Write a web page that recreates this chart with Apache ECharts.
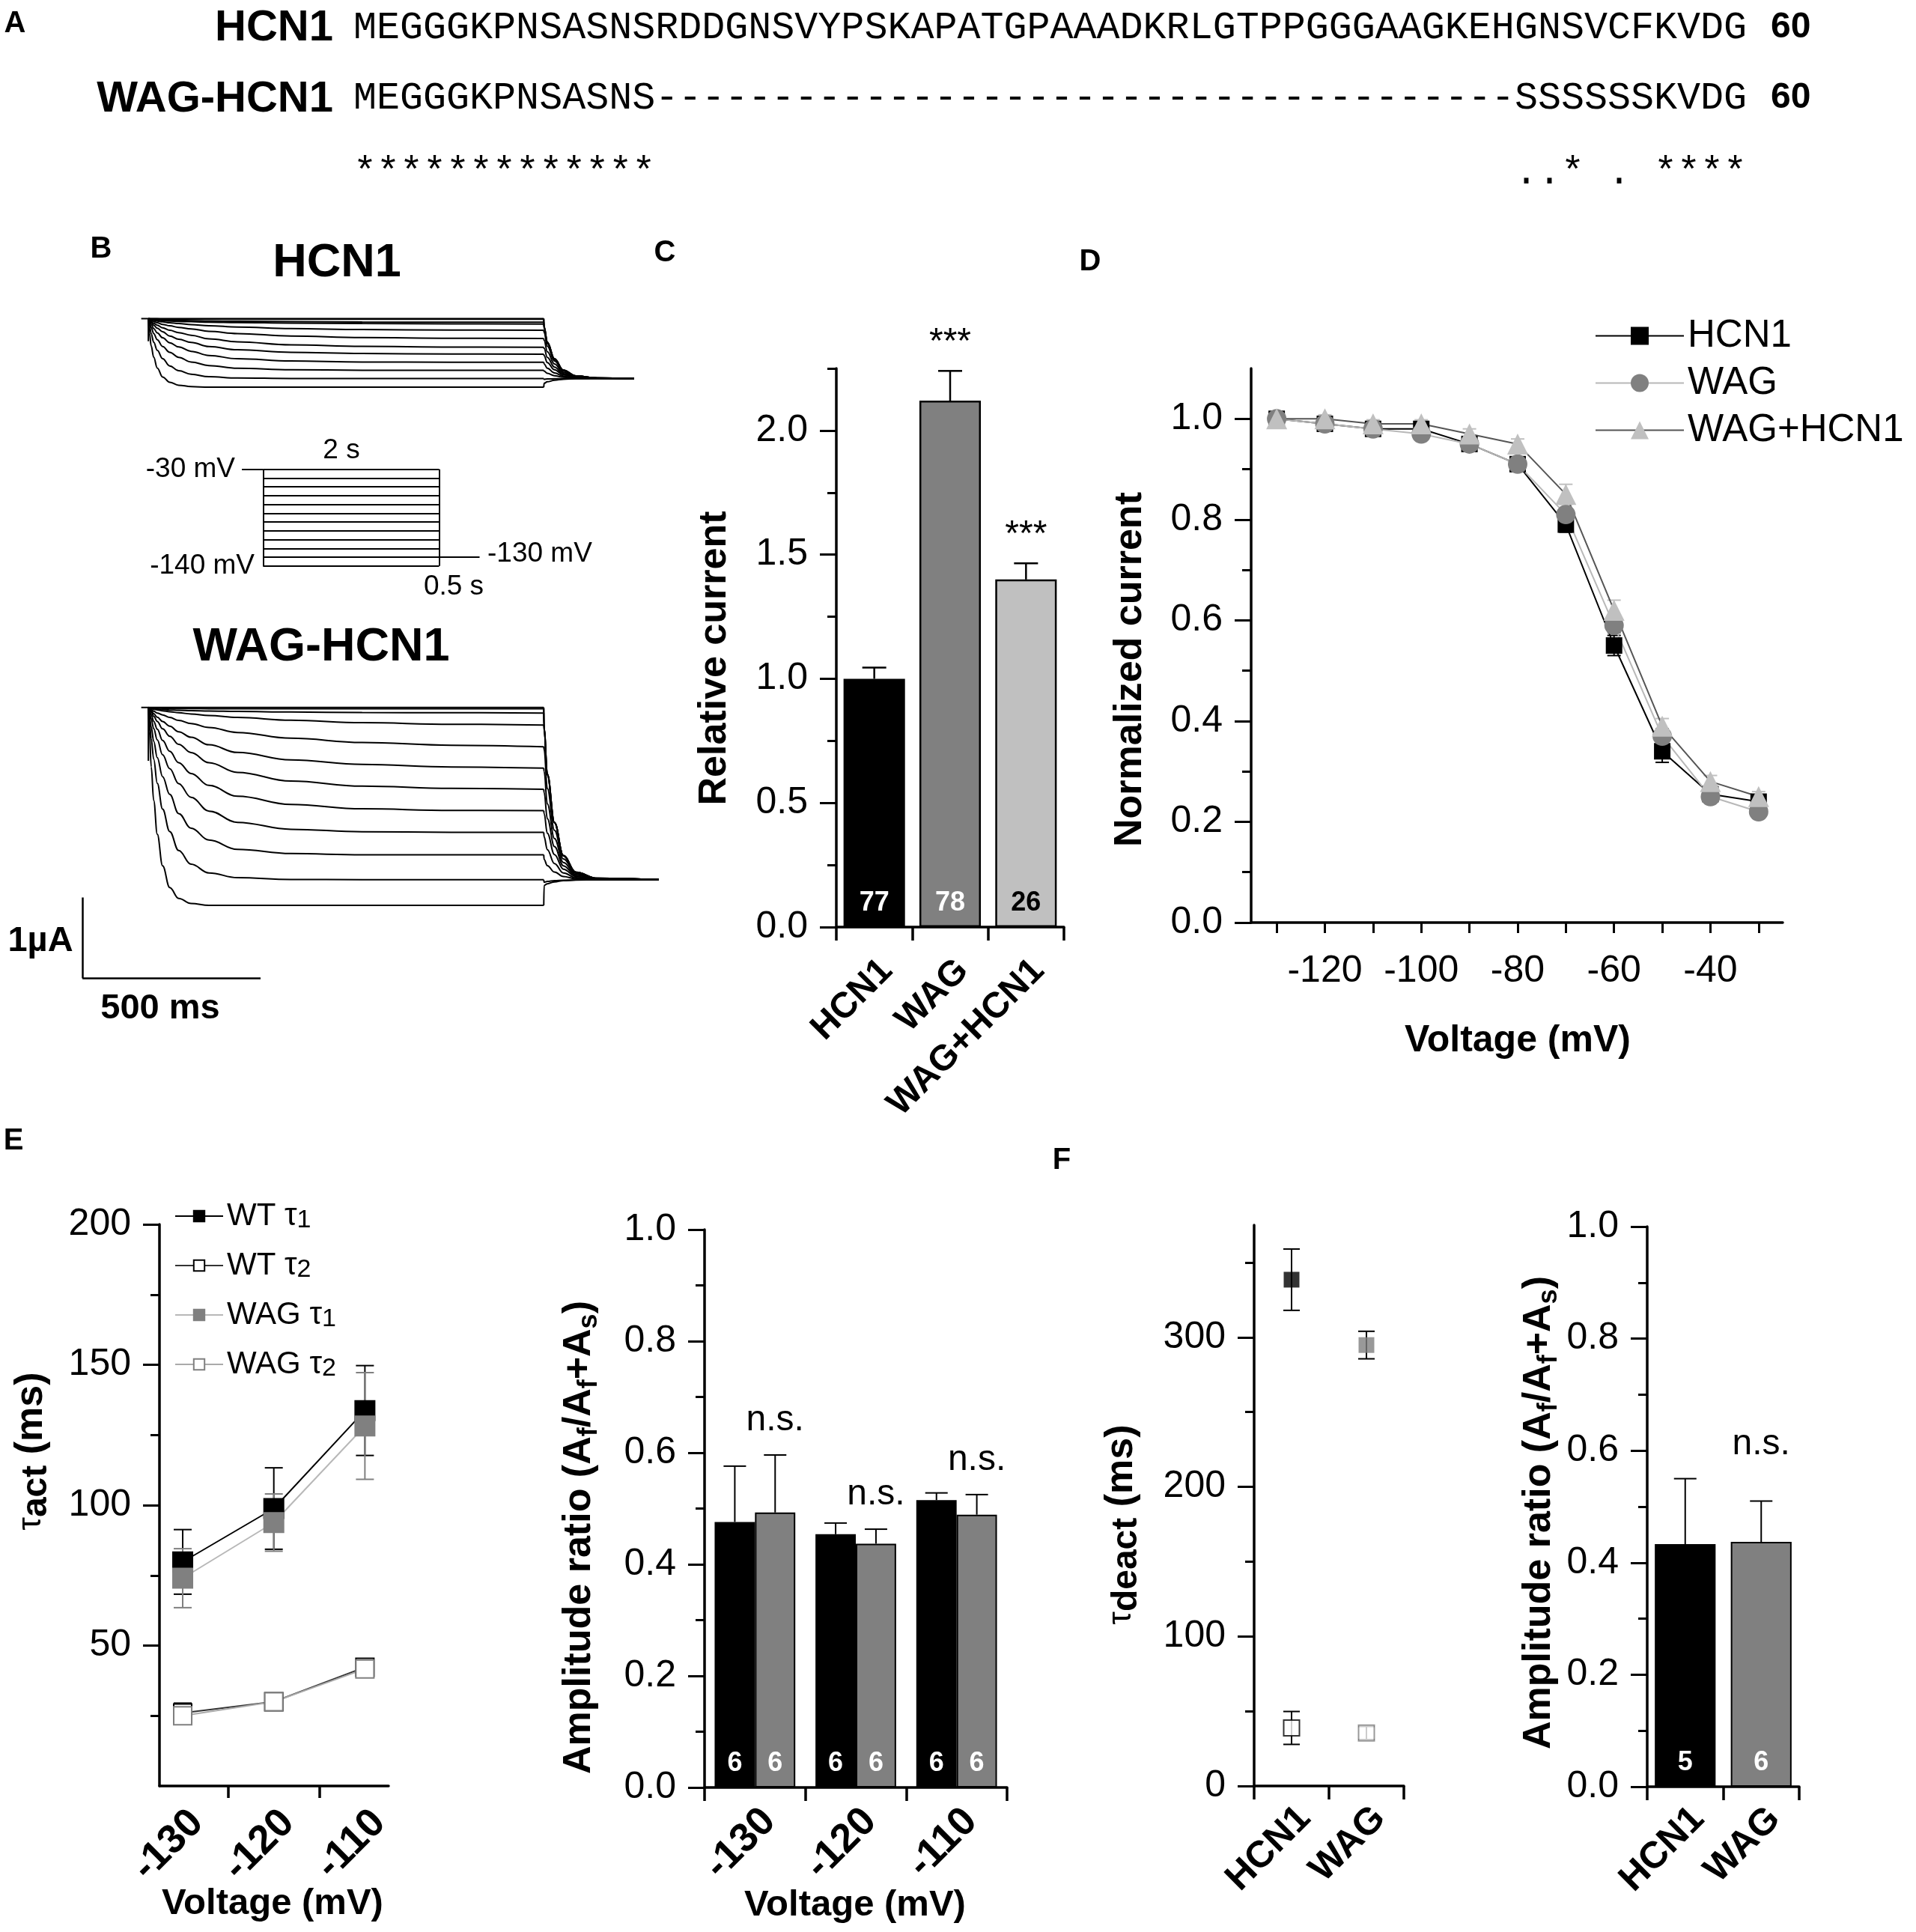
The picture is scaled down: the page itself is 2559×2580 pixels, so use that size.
<!DOCTYPE html>
<html>
<head>
<meta charset="utf-8">
<title>HCN1 / WAG-HCN1</title>
<script src="https://cdn.jsdelivr.net/npm/echarts@6.0.0/dist/echarts.min.js"></script>
<style>
html, body { margin: 0; padding: 0; background: #fff; }
#fig { width: 2559px; height: 2580px; }
</style>
</head>
<body>
<div id="fig"></div>
<script>
var SANS = '"Liberation Sans", Arial, Helvetica, sans-serif';
var MONO = '"Liberation Mono", "DejaVu Sans Mono", monospace';

// ---------- A: alignment ----------
var seqHCN1 = 'MEGGGKPNSASNSRDDGNSVYPSKAPATGPAAADKRLGTPPGGGAAGKEHGNSVCFKVDG';
var seqWAG = 'MEGGGKPNSASNS' + new Array(38).join('-') + 'SSSSSSKVDG';
var seqCons = '*************' + new Array(38).join(' ') + '..* . ****';

// ---------- B: protocol and current traces ----------
var stepVoltages = [-30, -40, -50, -60, -70, -80, -90, -100, -110, -120, -130, -140];
var holdV = -30, tailV = -130, stepMs = 2000, tailMs = 460, leadMs = 240;
var holdStart = -20;
var spikeHCN1 = -0.28, spikeWAG = -0.66;
var pulseT = [0, 3, 8, 15, 25, 40, 60, 85, 120, 170, 250, 400, 600, 850, 1110];
var hcn1TailT = [1110, 1111, 1120, 1140, 1165, 1200, 1260, 1363];
var wagTailT = [1110, 1111, 1120, 1140, 1165, 1200, 1260, 1433];

// current in uA, one row per step voltage (-30 ... -140)
var hcn1Pulse = [
	[0, 0, 0, 0, 0, 0, 0, 0, 0, 0, 0, 0, 0, 0, 0],
	[0, -0.002, -0.003, -0.003, -0.004, -0.005, -0.006, -0.006, -0.007, -0.009, -0.009, -0.009, -0.009, -0.009, -0.009],
	[0, -0.004, -0.007, -0.009, -0.012, -0.015, -0.022, -0.024, -0.026, -0.031, -0.034, -0.037, -0.043, -0.046, -0.046],
	[0, -0.005, -0.010, -0.015, -0.020, -0.025, -0.031, -0.035, -0.039, -0.044, -0.049, -0.056, -0.062, -0.065, -0.068],
	[0, -0.007, -0.013, -0.022, -0.030, -0.041, -0.052, -0.062, -0.074, -0.088, -0.105, -0.123, -0.136, -0.142, -0.145],
	[0, -0.011, -0.022, -0.037, -0.052, -0.072, -0.090, -0.109, -0.128, -0.158, -0.185, -0.216, -0.235, -0.244, -0.247],
	[0, -0.017, -0.036, -0.059, -0.082, -0.114, -0.145, -0.174, -0.206, -0.252, -0.287, -0.324, -0.343, -0.352, -0.355],
	[0, -0.022, -0.049, -0.083, -0.119, -0.163, -0.216, -0.256, -0.295, -0.346, -0.386, -0.417, -0.432, -0.438, -0.441],
	[0, -0.030, -0.070, -0.123, -0.178, -0.238, -0.299, -0.351, -0.405, -0.456, -0.497, -0.525, -0.537, -0.540, -0.540],
	[0, -0.048, -0.109, -0.185, -0.262, -0.345, -0.417, -0.479, -0.537, -0.581, -0.614, -0.633, -0.639, -0.639, -0.639],
	[0, -0.082, -0.185, -0.293, -0.393, -0.496, -0.586, -0.645, -0.689, -0.719, -0.735, -0.741, -0.741, -0.741, -0.741],
	[0, -0.178, -0.340, -0.478, -0.611, -0.722, -0.787, -0.824, -0.841, -0.849, -0.849, -0.849, -0.849, -0.849, -0.849]
];
var hcn1Tail = [
	[0, -0.10, -0.292, -0.497, -0.638, -0.709, -0.735, -0.741],
	[-0.009, -0.10, -0.292, -0.497, -0.638, -0.709, -0.735, -0.741],
	[-0.046, -0.11, -0.299, -0.501, -0.640, -0.709, -0.735, -0.741],
	[-0.068, -0.12, -0.306, -0.505, -0.642, -0.710, -0.735, -0.741],
	[-0.145, -0.17, -0.341, -0.524, -0.650, -0.712, -0.735, -0.741],
	[-0.247, -0.27, -0.411, -0.562, -0.666, -0.717, -0.736, -0.741],
	[-0.355, -0.37, -0.481, -0.600, -0.682, -0.722, -0.737, -0.741],
	[-0.441, -0.46, -0.544, -0.634, -0.696, -0.727, -0.738, -0.741],
	[-0.540, -0.56, -0.614, -0.672, -0.712, -0.732, -0.739, -0.741],
	[-0.639, -0.65, -0.677, -0.706, -0.726, -0.736, -0.740, -0.741],
	[-0.741, -0.75, -0.747, -0.744, -0.742, -0.741, -0.741, -0.741],
	[-0.849, -0.80, -0.782, -0.763, -0.750, -0.744, -0.742, -0.741]
];
var wagPulse = [
	[0, 0, 0, 0, 0, 0, 0, 0, 0, 0, 0, 0, 0, 0, 0],
	[0, -0.002, -0.004, -0.006, -0.008, -0.010, -0.012, -0.013, -0.014, -0.015, -0.015, -0.015, -0.015, -0.015, -0.015],
	[0, -0.005, -0.010, -0.015, -0.020, -0.025, -0.031, -0.035, -0.039, -0.044, -0.049, -0.056, -0.062, -0.065, -0.068],
	[0, -0.006, -0.013, -0.022, -0.030, -0.041, -0.052, -0.065, -0.080, -0.099, -0.123, -0.157, -0.188, -0.207, -0.216],
	[0, -0.012, -0.024, -0.046, -0.068, -0.092, -0.123, -0.160, -0.199, -0.247, -0.309, -0.380, -0.432, -0.466, -0.485],
	[0, -0.017, -0.038, -0.077, -0.120, -0.173, -0.231, -0.300, -0.368, -0.461, -0.556, -0.648, -0.704, -0.735, -0.750],
	[0, -0.025, -0.056, -0.108, -0.172, -0.263, -0.355, -0.455, -0.557, -0.683, -0.802, -0.910, -0.972, -1.000, -1.012],
	[0, -0.038, -0.089, -0.170, -0.268, -0.408, -0.541, -0.682, -0.816, -0.963, -1.097, -1.199, -1.253, -1.272, -1.275],
	[0, -0.062, -0.139, -0.262, -0.401, -0.586, -0.756, -0.941, -1.111, -1.281, -1.420, -1.506, -1.537, -1.543, -1.543],
	[0, -0.109, -0.237, -0.419, -0.619, -0.856, -1.074, -1.311, -1.493, -1.639, -1.754, -1.806, -1.821, -1.821, -1.821],
	[0, -0.170, -0.383, -0.639, -0.937, -1.257, -1.534, -1.768, -1.938, -2.045, -2.104, -2.126, -2.130, -2.130, -2.130],
	[0, -0.294, -0.734, -1.150, -1.566, -1.958, -2.227, -2.361, -2.423, -2.447, -2.447, -2.447, -2.447, -2.447, -2.447]
];
var wagTail = [
	[0, -0.262, -0.822, -1.420, -1.831, -2.037, -2.111, -2.130],
	[-0.015, -0.262, -0.822, -1.420, -1.831, -2.037, -2.111, -2.130],
	[-0.068, -0.270, -0.828, -1.423, -1.832, -2.037, -2.111, -2.130],
	[-0.216, -0.280, -0.835, -1.427, -1.834, -2.038, -2.112, -2.130],
	[-0.485, -0.520, -1.003, -1.518, -1.872, -2.050, -2.114, -2.130],
	[-0.750, -0.790, -1.192, -1.621, -1.916, -2.063, -2.117, -2.130],
	[-1.012, -1.050, -1.374, -1.720, -1.957, -2.076, -2.119, -2.130],
	[-1.275, -1.310, -1.556, -1.818, -1.999, -2.089, -2.122, -2.130],
	[-1.543, -1.600, -1.759, -1.929, -2.045, -2.103, -2.125, -2.130],
	[-1.821, -1.880, -1.955, -2.035, -2.090, -2.118, -2.128, -2.130],
	[-2.130, -2.160, -2.151, -2.141, -2.135, -2.132, -2.130, -2.130],
	[-2.447, -2.200, -2.179, -2.157, -2.141, -2.134, -2.131, -2.130]
];
// scale bar: 1 uA by 500 ms
var barT0 = -185, barI0 = -3.35, barAmp = 1, barMs = 500;

// ---------- C: relative current ----------
var cCats = ['HCN1', 'WAG', 'WAG+HCN1'];
var cMean = [1.00, 2.12, 1.40];
var cErr = [0.045, 0.12, 0.065];
var cN = ['77', '78', '26'];
var cSig = ['', '***', '***'];
var cTicks = [0, 0.5, 1.0, 1.5, 2.0];
var cMinor = [0.25, 0.75, 1.25, 1.75, 2.25];

// ---------- D: normalized current vs voltage ----------
var dVolt = [-130, -120, -110, -100, -90, -80, -70, -60, -50, -40, -30];
var dHCN1 = [1.00, 0.99, 0.98, 0.98, 0.95, 0.91, 0.79, 0.55, 0.34, 0.255, 0.24];
var dWAG = [1.00, 0.99, 0.98, 0.97, 0.95, 0.91, 0.81, 0.59, 0.37, 0.25, 0.22];
var dMix = [1.00, 1.00, 0.99, 0.99, 0.97, 0.95, 0.85, 0.62, 0.39, 0.28, 0.25];
var dHCN1Err = [0.005, 0.008, 0.008, 0.008, 0.010, 0.010, 0.015, 0.020, 0.022, 0.012, 0.010];
var dWAGErr = [0.005, 0.008, 0.008, 0.008, 0.010, 0.010, 0.012, 0.015, 0.015, 0.010, 0.010];
var dMixErr = [0.005, 0.008, 0.008, 0.008, 0.010, 0.010, 0.020, 0.020, 0.015, 0.012, 0.010];
var dXTicks = [-130, -120, -110, -100, -90, -80, -70, -60, -50, -40, -30];
var dXLabels = [-120, -100, -80, -60, -40];
var dYTicks = [0, 0.2, 0.4, 0.6, 0.8, 1.0];
var dYMinor = [0.1, 0.3, 0.5, 0.7, 0.9];

// ---------- E: activation time constants and amplitude ratio ----------
var eVolt = [-130, -120, -110];
var wtT1 = [79.8, 98.8, 133.7], wtT1Err = [11.5, 14.5, 16];
var wtT2 = [26, 30, 42.3], wtT2Err = [3.5, 2.5, 3];
var wagT1 = [74, 93.8, 128.2], wagT1Err = [10.5, 10.2, 19];
var wagT2 = [25, 30, 41.7], wagT2Err = [3, 2, 2.5];
var eYTicks = [50, 100, 150, 200];
var eYMinor = [25, 75, 125, 175];
var erCats = ['-130', '-120', '-110'];
var erWT = [0.476, 0.454, 0.515], erWTErr = [0.100, 0.020, 0.013];
var erWAG = [0.493, 0.437, 0.489], erWAGErr = [0.103, 0.026, 0.036];
var erN = ['6', '6', '6'];
var erSig = ['n.s.', 'n.s.', 'n.s.'];

// ---------- F: deactivation ----------
var fCats = ['HCN1', 'WAG'];
var fT1 = [338.5, 294.8], fT1Err = [20.5, 9.2];
var fT2 = [38.8, 35.4], fT2Err = [11, 4.4];
var fYTicks = [0, 100, 200, 300];
var fYMinor = [50, 150, 250, 350];
var frMean = [0.433, 0.437], frErr = [0.117, 0.073];
var frN = ['5', '6'];
var frSig = ['', 'n.s.'];
var ratioTicks = [0, 0.2, 0.4, 0.6, 0.8, 1.0];
var ratioMinor = [0.1, 0.3, 0.5, 0.7, 0.9];

// ---------- helpers ----------
var AX = {color: '#000', width: 3.5};

function hidden(grid, min, max) {
	return {type: 'value', gridIndex: grid, min: min, max: max, show: false};
}

function yPair(grid, min, max, majors, minors, dec) {
	return [
		{
			type: 'value', gridIndex: grid, min: min, max: max, position: 'left',
			axisLine: {show: true, onZero: false, lineStyle: AX},
			axisTick: {show: true, length: 22, lineStyle: {color: '#000', width: 3}, customValues: majors},
			axisLabel: {
				show: true, customValues: majors, margin: 38, color: '#000',
				fontFamily: SANS, fontSize: 50,
				formatter: function (v) { return Number(v).toFixed(dec); }
			},
			splitLine: {show: false}
		},
		{
			type: 'value', gridIndex: grid, min: min, max: max, position: 'left',
			axisLine: {show: false},
			axisTick: {show: true, length: 12, lineStyle: {color: '#000', width: 3}, customValues: minors},
			axisLabel: {show: false},
			splitLine: {show: false}
		}
	];
}

function catX(grid, cats, size, margin) {
	return {
		type: 'category', gridIndex: grid, data: cats, boundaryGap: true,
		axisLine: {show: true, onZero: false, lineStyle: AX},
		axisTick: {show: true, length: 18, lineStyle: {color: '#000', width: 3.5}},
		axisLabel: {interval: 0, rotate: 45, margin: margin, verticalAlign: 'top', color: '#000',
			fontFamily: SANS, fontWeight: 'bold', fontSize: size},
		splitLine: {show: false}
	};
}

function trace(idx, ts, vs) {
	return {
		type: 'line', xAxisIndex: idx, yAxisIndex: idx, silent: true, clip: false,
		data: ts.map(function (t, i) { return [t, vs[i]]; }),
		symbol: 'none', smooth: 0.4, smoothMonotone: 'x',
		lineStyle: {color: '#000', width: 2}
	};
}

// vertical error bars drawn through the axes; shift is a fraction of the category band
function errBars(xi, yi, xs, mean, up, down, o) {
	return {
		type: 'custom', xAxisIndex: xi, yAxisIndex: yi, silent: true, z: o.z || 5, clip: false,
		data: xs.map(function (x, i) { return [x, mean[i], up[i], down ? down[i] : 0]; }),
		renderItem: function (params, api) {
			var x = api.value(0), m = api.value(1), u = api.value(2), d = api.value(3);
			var off = o.shift ? o.shift * api.size([1, 0])[0] : 0;
			var top = api.coord([x, m + u]);
			var bot = api.coord([x, m - d]);
			var cx = top[0] + off, hw = o.cap / 2;
			var st = {stroke: o.color, lineWidth: o.width};
			var kids = [
				{type: 'line', shape: {x1: cx, y1: top[1], x2: cx, y2: bot[1]}, style: st},
				{type: 'line', shape: {x1: cx - hw, y1: top[1], x2: cx + hw, y2: top[1]}, style: st}
			];
			if (d > 0) {
				kids.push({type: 'line', shape: {x1: cx - hw, y1: bot[1], x2: cx + hw, y2: bot[1]}, style: st});
			}
			var lab = o.labels ? o.labels[params.dataIndex] : '';
			if (lab) {
				kids.push({
					type: 'text', x: cx, y: top[1] - o.lift,
					style: {text: lab, fill: '#000', fontFamily: SANS, fontSize: o.fontSize || 48,
						textAlign: 'center', textVerticalAlign: 'middle'}
				});
			}
			return {type: 'group', children: kids};
		}
	};
}

function txt(x, y, s, size, o) {
	o = o || {};
	return {
		type: 'text', x: x, y: y, rotation: o.rot || 0, z: 100, silent: true,
		style: {
			text: s, fill: '#000', fontFamily: o.font || SANS, fontSize: size,
			fontWeight: o.bold ? 'bold' : 'normal',
			textAlign: o.align || 'center', textVerticalAlign: 'middle',
			rich: o.rich
		}
	};
}

var subRich = {
	a: {fontFamily: SANS, fontWeight: 'bold', fontSize: 52, lineHeight: 62, fill: '#000', color: '#000'},
	b: {fontFamily: SANS, fontWeight: 'bold', fontSize: 36, lineHeight: 30, verticalAlign: 'bottom', fill: '#000', color: '#000'}
};
var tauRich = {
	t: {fontFamily: SANS, fontSize: 44, lineHeight: 62, fill: '#000', color: '#000'},
	s: {fontFamily: SANS, fontWeight: 'bold', fontSize: 48, lineHeight: 36, verticalAlign: 'bottom', fill: '#000', color: '#000'},
	n: {fontFamily: SANS, fontWeight: 'bold', fontSize: 52, lineHeight: 62, fill: '#000', color: '#000'}
};
var ampLabel = '{a|Amplitude ratio (A}{b|f}{a|/A}{b|f}{a|+A}{b|s}{a|)}';

// ---------- series ----------
var series = [];
hcn1Pulse.forEach(function (tr) { series.push(trace(0, pulseT, tr)); });
hcn1Tail.forEach(function (tr) { series.push(trace(0, hcn1TailT, tr)); });
wagPulse.forEach(function (tr) { series.push(trace(2, pulseT, tr)); });
wagTail.forEach(function (tr) { series.push(trace(2, wagTailT, tr)); });
series.push(trace(0, [holdStart, 0, 0], [0, 0, spikeHCN1]));
series.push(trace(2, [holdStart, 0, 0], [0, 0, spikeWAG]));

var lastV = stepVoltages[stepVoltages.length - 1];
var proto = stepVoltages.map(function (v) { return [[0, v], [stepMs, v]]; });
proto.push([[-leadMs, holdV], [0, holdV]]);
proto.push([[0, holdV], [0, lastV]]);
proto.push([[stepMs, holdV], [stepMs, lastV]]);
proto.push([[stepMs, tailV], [stepMs + tailMs, tailV]]);
series.push({
	type: 'lines', coordinateSystem: 'cartesian2d', xAxisIndex: 1, yAxisIndex: 1, silent: true,
	data: proto.map(function (c) { return {coords: c}; }),
	lineStyle: {color: '#000', width: 2, opacity: 1, curveness: 0}
});
series.push({
	type: 'lines', coordinateSystem: 'cartesian2d', xAxisIndex: 2, yAxisIndex: 2, silent: true,
	data: [
		{coords: [[barT0, barI0 + barAmp], [barT0, barI0]]},
		{coords: [[barT0, barI0], [barT0 + barMs, barI0]]}
	],
	lineStyle: {color: '#000', width: 2.5, opacity: 1, curveness: 0}
});

// C
var cFill = ['#000000', '#808080', '#c0c0c0'];
var cNColor = ['#ffffff', '#ffffff', '#000000'];
series.push({
	name: 'C bars', type: 'bar', xAxisIndex: 3, yAxisIndex: 3, barCategoryGap: '19%',
	data: cMean.map(function (v, i) {
		return {value: v, itemStyle: {color: cFill[i]}, label: {color: cNColor[i]}};
	}),
	itemStyle: {borderColor: '#000', borderWidth: 2.5},
	label: {show: true, position: 'insideBottom', distance: 14, fontFamily: SANS, fontWeight: 'bold', fontSize: 36,
		formatter: function (p) { return cN[p.dataIndex]; }}
});
series.push(errBars(3, 3, [0, 1, 2], cMean, cErr, null, {cap: 32, color: '#000', width: 2.5, labels: cSig, lift: 38, fontSize: 48}));

// D
series.push(errBars(4, 5, dVolt, dHCN1, dHCN1Err, dHCN1Err, {cap: 18, color: '#000', width: 2, z: 1}));
series.push(errBars(4, 5, dVolt, dWAG, dWAGErr, dWAGErr, {cap: 18, color: '#808080', width: 2, z: 1}));
series.push(errBars(4, 5, dVolt, dMix, dMixErr, dMixErr, {cap: 18, color: '#c0c0c0', width: 2, z: 1}));
function dLine(name, ys, sym, size, fill, lc) {
	return {
		name: name, type: 'line', xAxisIndex: 4, yAxisIndex: 5, z: 3, clip: false,
		data: dVolt.map(function (v, i) { return [v, ys[i]]; }),
		symbol: sym, symbolSize: size, itemStyle: {color: fill}, lineStyle: {color: lc, width: 2}
	};
}
series.push(dLine('HCN1', dHCN1, 'rect', 22, '#000000', '#000000'));
series.push(dLine('WAG', dWAG, 'circle', 26, '#808080', '#b8b8b8'));
series.push(dLine('WAG+HCN1', dMix, 'triangle', 28, '#c0c0c0', '#555555'));

// E left
series.push(errBars(5, 7, eVolt, wtT1, wtT1Err, wtT1Err, {cap: 24, color: '#000', width: 2, z: 1}));
series.push(errBars(5, 7, eVolt, wagT1, wagT1Err, wagT1Err, {cap: 24, color: '#808080', width: 2, z: 1}));
series.push(errBars(5, 7, eVolt, wtT2, wtT2Err, wtT2Err, {cap: 24, color: '#000', width: 2, z: 1}));
series.push(errBars(5, 7, eVolt, wagT2, wagT2Err, wagT2Err, {cap: 24, color: '#808080', width: 2, z: 1}));
function eLine(name, ys, lc, fill, border, size) {
	return {
		name: name, type: 'line', xAxisIndex: 5, yAxisIndex: 7, z: 3, clip: false,
		data: eVolt.map(function (v, i) { return [v, ys[i]]; }),
		symbol: 'rect', symbolSize: size,
		itemStyle: {color: fill, borderColor: border, borderWidth: 2},
		lineStyle: {color: lc, width: 2}
	};
}
series.push(eLine('WT τ1', wtT1, '#000000', '#000000', '#000000', 26));
series.push(eLine('WT τ2', wtT2, '#333333', '#ffffff', '#000000', 24));
series.push(eLine('WAG τ1', wagT1, '#b8b8b8', '#808080', '#808080', 26));
series.push(eLine('WAG τ2', wagT2, '#aaaaaa', '#ffffff', '#808080', 24));

// E right
function nLabel(arr) {
	return {show: true, position: 'insideBottom', distance: 14, color: '#fff', fontFamily: SANS, fontWeight: 'bold', fontSize: 36,
		formatter: function (p) { return arr[p.dataIndex]; }};
}
series.push({name: 'E WT ratio', type: 'bar', xAxisIndex: 6, yAxisIndex: 9, data: erWT, barGap: '0%', barCategoryGap: '20%',
	itemStyle: {color: '#000', borderColor: '#000', borderWidth: 2}, label: nLabel(erN)});
series.push({name: 'E WAG ratio', type: 'bar', xAxisIndex: 6, yAxisIndex: 9, data: erWAG, barGap: '0%', barCategoryGap: '20%',
	itemStyle: {color: '#808080', borderColor: '#000', borderWidth: 2}, label: nLabel(erN)});
series.push(errBars(6, 9, [0, 1, 2], erWT, erWTErr, null, {cap: 30, color: '#000', width: 2, shift: -0.2}));
series.push(errBars(6, 9, [0, 1, 2], erWAG, erWAGErr, null, {cap: 30, color: '#000', width: 2, shift: 0.2, labels: erSig, lift: 46, fontSize: 48}));

// F left
series.push(errBars(7, 11, [0, 1], fT1, fT1Err, fT1Err, {cap: 22, color: '#000', width: 2, z: 1}));
series.push(errBars(7, 11, [0, 1], fT2, fT2Err, fT2Err, {cap: 22, color: '#000', width: 2, z: 1}));
var fEdge = ['#000000', '#808080'];
series.push({name: 'F tau1', type: 'scatter', xAxisIndex: 7, yAxisIndex: 11, symbol: 'rect', symbolSize: 21, z: 3,
	data: fT1.map(function (v, i) { return {value: [i, v], itemStyle: {color: fEdge[i]}}; })});
series.push({name: 'F tau2', type: 'scatter', xAxisIndex: 7, yAxisIndex: 11, symbol: 'rect', symbolSize: 21, z: 3,
	data: fT2.map(function (v, i) { return {value: [i, v], itemStyle: {color: '#fff', borderColor: fEdge[i], borderWidth: 2}}; })});

// F right
series.push({name: 'F ratio', type: 'bar', xAxisIndex: 8, yAxisIndex: 13, barCategoryGap: '20%',
	data: frMean.map(function (v, i) { return {value: v, itemStyle: {color: ['#000000', '#808080'][i]}}; }),
	itemStyle: {borderColor: '#000', borderWidth: 2}, label: nLabel(frN)});
series.push(errBars(8, 13, [0, 1], frMean, frErr, null, {cap: 30, color: '#000', width: 2, labels: frSig, lift: 76, fontSize: 48}));

// ---------- axes ----------
var xAxes = [
	hidden(0, -200, 1450),
	hidden(1, -300, 2600),
	hidden(2, -200, 1450),
	catX(3, cCats, 48, 34),
	{
		type: 'value', gridIndex: 4, min: -135.3, max: -25,
		axisLine: {show: true, onZero: false, lineStyle: AX},
		axisTick: {show: true, length: 14, lineStyle: {color: '#000', width: 3}, customValues: dXTicks},
		axisLabel: {customValues: dXLabels, margin: 40, color: '#000', fontFamily: SANS, fontSize: 50},
		splitLine: {show: false}
	},
	{
		type: 'value', gridIndex: 5, min: -132.55, max: -107.4,
		axisLine: {show: true, onZero: false, lineStyle: AX},
		axisTick: {show: true, length: 16, lineStyle: {color: '#000', width: 3.5}, customValues: [-125, -115]},
		axisLabel: {customValues: eVolt, rotate: 45, margin: 22, verticalAlign: 'top', color: '#000',
			fontFamily: SANS, fontWeight: 'bold', fontSize: 54},
		splitLine: {show: false}
	},
	catX(6, erCats, 54, 18),
	catX(7, fCats, 50, 18),
	catX(8, fCats, 50, 18)
];
var yAxes = [hidden(0, -0.95, 0.05), hidden(1, -150, -20), hidden(2, -3.4, 0.1)]
	.concat(yPair(3, 0, 2.25, cTicks, cMinor, 1))
	.concat(yPair(4, 0, 1.1, dYTicks, dYMinor, 1))
	.concat(yPair(5, 0, 200, eYTicks, eYMinor, 0))
	.concat(yPair(6, 0, 1.0, ratioTicks, ratioMinor, 1))
	.concat(yPair(7, 0, 375, fYTicks, fYMinor, 0))
	.concat(yPair(8, 0, 1.0, ratioTicks, ratioMinor, 1));

var gridBoxes = [
	[103, 420, 785, 108],    // B HCN1 traces
	[316, 615, 341, 152.5],  // B protocol
	[103, 934, 785, 378],    // B WAG-HCN1 traces
	[1117, 492, 304, 746],   // C
	[1671, 492, 710, 740],   // D
	[213, 1635, 306, 750],   // E left
	[941, 1642, 404, 745],   // E right
	[1675, 1636, 200, 749],  // F left
	[2200, 1638, 203, 748]   // F right
];

// ---------- text ----------
var graphics = [
	txt(20, 32, 'A', 40, {bold: true}),
	txt(135, 333, 'B', 40, {bold: true}),
	txt(888, 338, 'C', 40, {bold: true}),
	txt(1456, 350, 'D', 40, {bold: true}),
	txt(18, 1524, 'E', 40, {bold: true}),
	txt(1418, 1550, 'F', 40, {bold: true}),

	txt(445, 38, 'HCN1', 58, {bold: true, align: 'right'}),
	txt(445, 133, 'WAG-HCN1', 58, {bold: true, align: 'right'}),
	txt(472, 37, seqHCN1, 51.7, {font: MONO, align: 'left'}),
	txt(472, 131, seqWAG, 51.7, {font: MONO, align: 'left'}),
	txt(472, 231, seqCons, 51.7, {font: MONO, align: 'left'}),
	txt(2365, 37, '60', 48, {bold: true, align: 'left'}),
	txt(2365, 131, '60', 48, {bold: true, align: 'left'}),

	txt(450, 352, 'HCN1', 63, {bold: true}),
	txt(429, 865, 'WAG-HCN1', 63, {bold: true}),
	txt(314, 627, '-30 mV', 37, {align: 'right'}),
	txt(456, 602, '2 s', 37),
	txt(340, 756, '-140 mV', 37, {align: 'right'}),
	txt(651, 740, '-130 mV', 37, {align: 'left'}),
	txt(606, 784, '0.5 s', 37),
	txt(54, 1257, '1µA', 47, {bold: true}),
	txt(214, 1347, '500 ms', 47, {bold: true}),

	txt(955, 879, 'Relative current', 52, {bold: true, rot: Math.PI / 2}),
	txt(1510, 894, 'Normalized current', 52, {bold: true, rot: Math.PI / 2}),
	txt(2027, 1390, 'Voltage (mV)', 50, {bold: true}),
	txt(42, 1938, '{t|τ}{s|act}{n| (ms)}', 52, {rot: Math.PI / 2, rich: tauRich}),
	txt(364, 2542, 'Voltage (mV)', 49, {bold: true}),
	txt(774, 2053, ampLabel, 52, {rot: Math.PI / 2, rich: subRich}),
	txt(1142, 2544, 'Voltage (mV)', 49, {bold: true}),
	txt(1498, 2036, '{t|τ}{s|deact}{n| (ms)}', 52, {rot: Math.PI / 2, rich: tauRich}),
	txt(2056, 2020, ampLabel, 52, {rot: Math.PI / 2, rich: subRich})
];

var option = {
	animation: false,
	backgroundColor: '#ffffff',
	textStyle: {fontFamily: SANS, color: '#000'},
	grid: gridBoxes.map(function (b) {
		return {left: b[0], top: b[1], width: b[2], height: b[3], containLabel: false, outerBoundsMode: 'none'};
	}),
	xAxis: xAxes,
	yAxis: yAxes,
	legend: [
		{
			data: ['HCN1', 'WAG', 'WAG+HCN1'], orient: 'vertical', left: 2125, top: 418,
			itemWidth: 118, itemHeight: 30, itemGap: 12, selectedMode: false,
			textStyle: {fontFamily: SANS, fontSize: 51, color: '#000'}
		},
		{
			data: ['WT τ1', 'WT τ2', 'WAG τ1', 'WAG τ2'], orient: 'vertical', left: 228, top: 1598,
			itemWidth: 64, itemHeight: 18, itemGap: 22, selectedMode: false,
			formatter: function (n) {
				var p = n.split('τ');
				return '{m|' + p[0] + 'τ}{s|' + p[1] + '}';
			},
			textStyle: {
				fontFamily: SANS, fontSize: 42, color: '#000',
				rich: {
					m: {fontFamily: SANS, fontSize: 42, lineHeight: 46, color: '#000'},
					s: {fontFamily: SANS, fontSize: 34, lineHeight: 24, verticalAlign: 'bottom', color: '#000'}
				}
			}
		}
	],
	graphic: {elements: graphics},
	series: series
};

var chart = echarts.init(document.getElementById('fig'), null, {renderer: 'canvas'});
chart.setOption(option);
</script>
</body>
</html>
